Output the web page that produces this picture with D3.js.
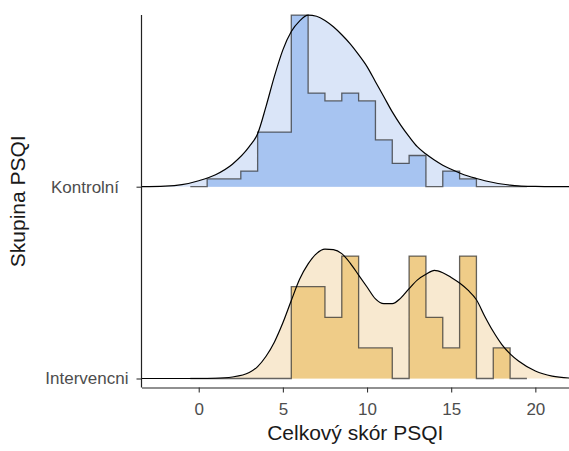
<!DOCTYPE html>
<html lang="cs">
  <head>
    <meta charset="UTF-8" />
    <title>Celkový skór PSQI</title>
    <script src="https://d3js.org/d3.v7.min.js"></script>
    <style>
      body {
        margin: 0;
        font-family: "Liberation Sans", Arial, sans-serif;
      }
      .tick text {
        fill: #4d4d4d;
        font-size: 17px;
        white-space: pre;
      }
      .tick line {
        stroke: #333;
        stroke-width: 1.1;
      }
    </style>
  </head>
  <body>
    <svg width="569" height="451"></svg>

    <script>
      // groups (bottom to top) and their tick labels
      const groups = ["Intervencni", "Kontrolní"];
      const groupLabels = ["Intervencni", "Kontrolní\u00a0\u00a0"];

      // histogram: bins of width 1 centred on these scores
      const binCenters = [0, 1, 2, 3, 4, 5, 6, 7, 8, 9, 10, 11, 12, 13, 14, 15, 16, 17, 18, 19];
      const kontrolCounts = [0, 1, 1, 2, 7, 7, 22, 12, 11, 12, 11, 6, 3, 4, 0, 2, 1, 0, 0, 0];
      const intervCounts = [0, 0, 0, 0, 0, 0, 3, 3, 2, 4, 1, 1, 0, 4, 2, 1, 4, 0, 1, 0];

      // density curves
      const densX = [-3.4, -2, -1, 0, 1, 2, 3, 3.5, 4, 4.5, 5, 5.5, 6, 6.5, 7, 7.5, 8, 8.5, 9, 9.5, 10,
        10.5, 11, 11.5, 12, 12.5, 13, 13.5, 14, 14.5, 15, 15.5, 16, 16.5, 17, 17.5, 18, 18.5, 19, 20, 21, 22.1];
      const kontrolDens = [0, 0.0006, 0.0025, 0.0075, 0.0151, 0.0283, 0.0503, 0.0666, 0.101, 0.139, 0.172,
        0.195, 0.2085, 0.2156, 0.2142, 0.209, 0.201, 0.191, 0.1796, 0.166, 0.151, 0.132, 0.113, 0.094,
        0.0775, 0.063, 0.05, 0.041, 0.0335, 0.027, 0.0219, 0.0173, 0.0134, 0.0103, 0.0075, 0.0053,
        0.0034, 0.002, 0.001, 0.0003, 0, 0];
      const intervDens = [0, 0, 0, 0, 0.0003, 0.0019, 0.0075, 0.015, 0.028, 0.046, 0.07, 0.098, 0.125,
        0.144, 0.157, 0.1625, 0.162, 0.157, 0.145, 0.13, 0.115, 0.1, 0.094, 0.094, 0.101, 0.113, 0.124,
        0.131, 0.136, 0.133, 0.127, 0.12, 0.111, 0.099, 0.078, 0.059, 0.043, 0.031, 0.022, 0.0095, 0.003,
        0.0005];

      const xTicks = [0, 5, 10, 15, 20];

      const colors = {
        Kontrolní: {dens: "#dae5f8", hist: "#a7c4f1"},
        Intervencni: {dens: "#f8e9d0", hist: "#efcc88"},
      };

      const series = [
        {group: "Kontrolní", counts: kontrolCounts, dens: kontrolDens},
        {group: "Intervencni", counts: intervCounts, dens: intervDens},
      ];

      const svg = d3.select("svg");
      const panel = {left: 141.5, right: 569, top: 15, bottom: 387.5};

      const x = d3.scaleLinear().domain([-3.4, 22.0]).range([panel.left, panel.right]);
      const y = d3.scalePoint().domain(groups).range([378.5, 186.7]);
      const h = d3.scaleLinear().domain([0, 0.2157]).range([0, 171.6]);

      series.forEach((s) => {
        const base = y(s.group);
        const total = d3.sum(s.counts);
        const pts = densX.map((v, i) => ({x: v, d: s.dens[i]}));

        // density fill
        svg.append("path")
          .datum(pts)
          .attr("fill", colors[s.group].dens)
          .attr("d", d3.area().x((d) => x(d.x)).y0(base).y1((d) => base - h(d.d)).curve(d3.curveMonotoneX));

        // histogram as a step outline
        const steps = [{x: binCenters[0] - 0.5, d: 0}];
        binCenters.forEach((c, i) => {
          const dv = s.counts[i] / total;
          steps.push({x: c - 0.5, d: dv}, {x: c + 0.5, d: dv});
        });
        steps.push({x: binCenters[binCenters.length - 1] + 0.5, d: 0});

        svg.append("path")
          .datum(steps)
          .attr("fill", colors[s.group].hist)
          .attr("d", d3.area().x((d) => x(d.x)).y0(base).y1((d) => base - h(d.d)));

        svg.append("path")
          .datum(steps)
          .attr("fill", "none")
          .attr("stroke", "#333")
          .attr("stroke-opacity", 0.75)
          .attr("stroke-width", 1.3)
          .attr("d", d3.line().x((d) => x(d.x)).y((d) => base - h(d.d)));

        // density outline
        svg.append("path")
          .datum(pts)
          .attr("fill", "none")
          .attr("stroke", "#000")
          .attr("stroke-width", 1.2)
          .attr("d", d3.line().x((d) => x(d.x)).y((d) => base - h(d.d)).curve(d3.curveMonotoneX));
      });

      // axes
      const xAxis = svg.append("g")
        .attr("transform", `translate(0,${panel.bottom})`)
        .call(d3.axisBottom(x).tickValues(xTicks).tickSize(5).tickSizeOuter(0).tickPadding(10));
      xAxis.select(".domain").attr("stroke", "#222").attr("stroke-width", 1.2);

      const yAxis = svg.append("g")
        .attr("transform", `translate(${panel.left},0)`)
        .call(d3.axisLeft(y).tickSize(5).tickPadding(8)
          .tickFormat((d) => groupLabels[groups.indexOf(d)]));
      yAxis.select(".domain").remove();
      svg.append("line")
        .attr("x1", panel.left).attr("x2", panel.left)
        .attr("y1", panel.top).attr("y2", panel.bottom)
        .attr("stroke", "#222").attr("stroke-width", 1.2);

      svg.append("text")
        .attr("x", (panel.left + panel.right) / 2)
        .attr("y", 440)
        .attr("text-anchor", "middle")
        .attr("font-size", 21)
        .attr("fill", "#1a1a1a")
        .text("Celkový skór PSQI");

      svg.append("text")
        .attr("transform", `translate(25,${(panel.top + panel.bottom) / 2}) rotate(-90)`)
        .attr("text-anchor", "middle")
        .attr("font-size", 21)
        .attr("fill", "#1a1a1a")
        .text("Skupina PSQI");
    </script>
  </body>
</html>
